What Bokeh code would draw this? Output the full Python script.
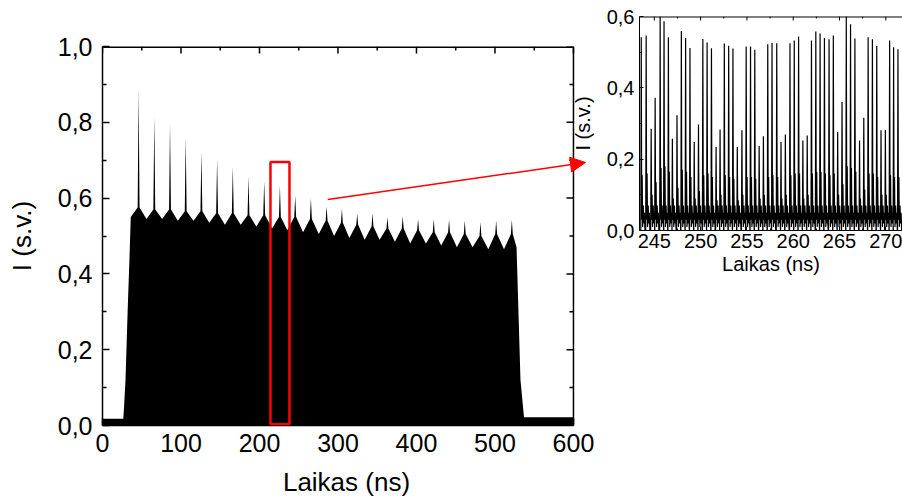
import math
from bokeh.plotting import figure
from bokeh.models import (Range1d, FixedTicker, CustomJSTickFormatter, Span,
                          BoxAnnotation, Arrow, NormalHead, ColumnDataSource)
from bokeh.embed import file_html
from bokeh.resources import INLINE

# ---------------- main trace: values ----------------
pre_t = [0.0, 26.5]
pre_v = [0.018, 0.018]
rise_t = [27.5, 29.3, 32.0, 34.5]
rise_v = [0.05, 0.12, 0.30, 0.45]
spike_t = [46, 66, 86, 106, 126, 146, 166, 186, 206, 226, 245.5, 265.5, 285.5,
           305, 324.5, 344, 363, 382.5, 402, 422, 441.5, 461.5, 481.5, 501.5, 521.5]
spike_v = [0.888, 0.816, 0.800, 0.761, 0.723, 0.704, 0.683, 0.657, 0.645, 0.633,
           0.607, 0.600, 0.578, 0.572, 0.559, 0.560, 0.550, 0.552, 0.545, 0.545,
           0.543, 0.541, 0.536, 0.541, 0.543]
shoulder_v = [0.575, 0.570, 0.570, 0.565, 0.565, 0.560, 0.560, 0.555, 0.555, 0.550,
              0.550, 0.545, 0.540, 0.535, 0.530, 0.525, 0.520, 0.520, 0.515, 0.510,
              0.510, 0.505, 0.500, 0.505, 0.505]
trough_v = [0.550, 0.545, 0.545, 0.540, 0.540, 0.535, 0.530, 0.530, 0.525, 0.520,
            0.515, 0.510, 0.505, 0.500, 0.495, 0.490, 0.490, 0.485, 0.480, 0.480,
            0.475, 0.470, 0.470, 0.465, 0.465]
fall_t = [527.5, 532.5, 537.0]
fall_v = [0.47, 0.12, 0.022]
post_t = [537.5, 600.0]
post_v = [0.022, 0.022]

main_x_ticks = [0, 100, 200, 300, 400, 500, 600]
main_y_ticks = [0.0, 0.2, 0.4, 0.6, 0.8, 1.0]

# zoomed window marker and arrow (data coordinates of the main plot)
zoom_box = [214.0, 238.2, 0.003, 0.695]   # left, right, bottom, top
zoom_arrow = [287.0, 0.596, 615.3, 0.694]  # x0, y0, x1, y1

# ---------------- inset trace: pulses ----------------
pulse_t = [243.59, 244.12, 244.66, 245.09, 245.63, 246.05, 246.52, 246.95, 247.45, 247.92,
           248.38, 248.85, 249.31, 249.77, 250.24, 250.70, 251.17, 251.67, 252.10, 252.56,
           253.03, 253.49, 253.96, 254.46, 254.92, 255.39, 255.85, 256.32, 256.78, 257.25,
           257.71, 258.22, 258.68, 259.15, 259.65, 260.11, 260.58, 261.04, 261.51, 261.97,
           262.44, 262.90, 263.37, 263.87, 264.33, 264.80, 265.27, 265.73, 266.19, 266.66,
           267.16, 267.62, 268.09, 268.55, 269.02, 269.48, 269.95, 270.41, 270.84, 271.31]
pulse_v = [0.542, 0.547, 0.285, 0.372, 0.600, 0.587, 0.542, 0.257, 0.323, 0.559,
           0.540, 0.512, 0.248, 0.297, 0.537, 0.527, 0.511, 0.234, 0.283, 0.524,
           0.518, 0.510, 0.234, 0.281, 0.516, 0.516, 0.507, 0.237, 0.264, 0.522,
           0.526, 0.525, 0.248, 0.269, 0.525, 0.533, 0.544, 0.252, 0.266, 0.533,
           0.558, 0.552, 0.540, 0.536, 0.547, 0.276, 0.360, 0.600, 0.578, 0.538,
           0.252, 0.316, 0.542, 0.536, 0.517, 0.281, 0.282, 0.533, 0.514, 0.508]
pulse_sub = [0.155, 0.160, 0.100, 0.135, 0.175, 0.180, 0.165, 0.090, 0.120, 0.170,
             0.165, 0.150, 0.090, 0.110, 0.155, 0.160, 0.150, 0.085, 0.100, 0.155,
             0.150, 0.145, 0.085, 0.100, 0.150, 0.150, 0.145, 0.090, 0.100, 0.150,
             0.155, 0.150, 0.090, 0.100, 0.155, 0.160, 0.160, 0.090, 0.100, 0.160,
             0.165, 0.165, 0.160, 0.155, 0.160, 0.100, 0.130, 0.180, 0.175, 0.165,
             0.090, 0.115, 0.160, 0.160, 0.150, 0.100, 0.100, 0.155, 0.150, 0.150]
ring_low = [0.0, 0.03, 0.01, 0.07, 0.02, 0.05, 0.0]   # typical ringing levels between pulses

inset_x_ticks = [245, 250, 255, 260, 265, 270]
inset_y_ticks = [0.0, 0.2, 0.4, 0.6]


def mids(ticks):
    return [(a + b) / 2 for a, b in zip(ticks[:-1], ticks[1:])]


# ---------------- build envelope ----------------
env_t = list(pre_t) + list(rise_t)
env_v = list(pre_v) + list(rise_v)
for t, s, sh, tr in zip(spike_t, spike_v, shoulder_v, trough_v):
    env_t += [t - 10, t - 1.2, t, t + 1.2]
    env_v += [tr, sh, s, sh]
env_t += fall_t + post_t
env_v += fall_v + post_v
main_src = ColumnDataSource(dict(t=env_t, v=env_v, z=[0.0] * len(env_t)))

ins_t, ins_v = [], []
for t, h, s in zip(pulse_t, pulse_v, pulse_sub):
    ins_t += [t - 0.05, t, t + 0.05, t + 0.1, t + 0.15, t + 0.22, t + 0.28, t + 0.34, t + 0.4]
    ins_v += [ring_low[0], h, ring_low[1], s, ring_low[2], ring_low[3], ring_low[4],
              ring_low[5], ring_low[6]]
ins_src = ColumnDataSource(dict(t=ins_t, v=ins_v))

FONT = "Liberation Sans"
comma_fmt = "return tick.toFixed(1).replace('.', ',');"


def style_axis(ax, size_lbl, size_title, tin, tmin, lw):
    ax.major_label_text_font = FONT
    ax.major_label_text_font_size = f"{size_lbl}px"
    ax.major_label_text_color = "black"
    ax.axis_label_text_font = FONT
    ax.axis_label_text_font_size = f"{size_title}px"
    ax.axis_label_text_font_style = "normal"
    ax.axis_label_text_color = "black"
    ax.axis_line_color = "black"
    ax.axis_line_width = lw
    ax.major_tick_line_color = "black"
    ax.minor_tick_line_color = "black"
    ax.major_tick_line_width = lw
    ax.minor_tick_line_width = lw
    ax.major_tick_in = tin
    ax.major_tick_out = 0
    ax.minor_tick_in = tmin
    ax.minor_tick_out = 0


# ---------------- main figure ----------------
X_END = 621.7   # frame extends a little past 600 ns so the arrow tip fits
p = figure(width=598, height=504, x_range=Range1d(0, X_END), y_range=Range1d(0, 1.0),
           output_backend="svg", toolbar_location=None,
           min_border_left=102, min_border_right=8, min_border_top=46, min_border_bottom=79)
p.xgrid.visible = False
p.ygrid.visible = False
p.outline_line_color = None
p.background_fill_color = "white"

p.varea(x="t", y1="z", y2="v", source=main_src, fill_color="black")

p.xaxis.ticker = FixedTicker(ticks=main_x_ticks, minor_ticks=mids(main_x_ticks))
p.yaxis.ticker = FixedTicker(ticks=main_y_ticks, minor_ticks=mids(main_y_ticks))
p.xaxis.bounds = (main_x_ticks[0], main_x_ticks[-1])
p.yaxis.formatter = CustomJSTickFormatter(code=comma_fmt)
p.xaxis.axis_label = "Laikas (ns)"
p.yaxis.axis_label = "I (s.v.)"
style_axis(p.xaxis[0], 25, 26, 7, 4, 1.5)
style_axis(p.yaxis[0], 25, 26, 7, 4, 1.5)
p.xaxis.major_label_standoff = 8
p.xaxis.axis_label_standoff = 12
p.yaxis.major_label_standoff = 10
p.yaxis.axis_label_standoff = 18

# mirrored frame: top edge, right edge at 600 ns, inward ticks
x_end_tick = main_x_ticks[-1]
y_end_tick = main_y_ticks[-1]
p.segment(x0=[main_x_ticks[0]], y0=[y_end_tick], x1=[x_end_tick], y1=[y_end_tick],
          line_color="black", line_width=3)
p.add_layout(Span(location=x_end_tick, dimension="height", line_color="black", line_width=1.5))
p.ray(x=main_x_ticks, y=[y_end_tick] * len(main_x_ticks), length=7, angle=-math.pi / 2,
      length_units="screen", line_color="black", line_width=1.5)
mx = mids(main_x_ticks)
p.ray(x=mx, y=[y_end_tick] * len(mx), length=4, angle=-math.pi / 2,
      length_units="screen", line_color="black", line_width=1.5)
p.ray(x=[x_end_tick] * len(main_y_ticks), y=main_y_ticks, length=7, angle=math.pi,
      length_units="screen", line_color="black", line_width=1.5)
my = mids(main_y_ticks)
p.ray(x=[x_end_tick] * len(my), y=my, length=4, angle=math.pi,
      length_units="screen", line_color="black", line_width=1.5)

p.add_layout(BoxAnnotation(left=zoom_box[0], right=zoom_box[1], bottom=zoom_box[2], top=zoom_box[3],
                           fill_alpha=0, line_color="#ff0000", line_alpha=1.0, line_width=2.5))
p.add_layout(Arrow(end=NormalHead(size=15, fill_color="#ff0000", line_color="#ff0000", line_width=1),
                   x_start=zoom_arrow[0], y_start=zoom_arrow[1], x_end=zoom_arrow[2], y_end=zoom_arrow[3],
                   line_color="#ff0000", line_width=1.5))

# ---------------- inset figure (separate root, placed over the top-right corner) ----------------
q = figure(width=334, height=282, x_range=Range1d(243.4, 271.8), y_range=Range1d(0, 0.6),
           output_backend="svg", toolbar_location=None,
           min_border_left=70, min_border_right=0, min_border_top=16, min_border_bottom=52)
q.styles = {"position": "absolute", "left": "568px", "top": "0px"}
q.border_fill_alpha = 0
q.background_fill_color = "white"
q.xgrid.visible = False
q.ygrid.visible = False
q.outline_line_color = None

q.line(x="t", y="v", source=ins_src, line_color="black", line_width=1.2)

q.xaxis.ticker = FixedTicker(ticks=inset_x_ticks, minor_ticks=mids(inset_x_ticks))
q.yaxis.ticker = FixedTicker(ticks=inset_y_ticks, minor_ticks=mids(inset_y_ticks))
q.yaxis.formatter = CustomJSTickFormatter(code=comma_fmt)
q.xaxis.axis_label = "Laikas (ns)"
q.yaxis.axis_label = "I (s.v.)"
style_axis(q.xaxis[0], 20, 20, 4, 2, 1)
style_axis(q.yaxis[0], 20, 20, 4, 2, 1)
q.xaxis.major_label_standoff = 3
q.xaxis.axis_label_standoff = 2
q.yaxis.major_label_standoff = 5
q.yaxis.axis_label_standoff = 10

qy_top = inset_y_ticks[-1]
q.segment(x0=[243.4], y0=[qy_top], x1=[271.8], y1=[qy_top], line_color="black", line_width=2)
q.ray(x=inset_x_ticks, y=[qy_top] * len(inset_x_ticks), length=4, angle=-math.pi / 2,
      length_units="screen", line_color="black", line_width=1)
qmx = mids(inset_x_ticks)
q.ray(x=qmx, y=[qy_top] * len(qmx), length=2, angle=-math.pi / 2,
      length_units="screen", line_color="black", line_width=1)

open("out.html", "w").write(file_html([p, q], INLINE))
